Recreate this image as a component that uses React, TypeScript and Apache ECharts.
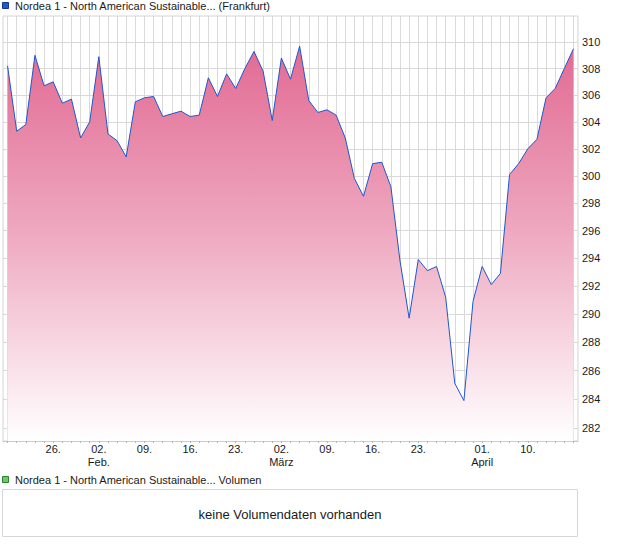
import React, { useEffect, useRef } from "react";
import * as echarts from "echarts";

const dates = [
  "2026-01-19", "2026-01-20", "2026-01-21", "2026-01-22", "2026-01-23",
  "2026-01-26", "2026-01-27", "2026-01-28", "2026-01-29", "2026-01-30",
  "2026-02-02", "2026-02-03", "2026-02-04", "2026-02-05", "2026-02-06",
  "2026-02-09", "2026-02-10", "2026-02-11", "2026-02-12", "2026-02-13",
  "2026-02-16", "2026-02-17", "2026-02-18", "2026-02-19", "2026-02-20",
  "2026-02-23", "2026-02-24", "2026-02-25", "2026-02-26", "2026-02-27",
  "2026-03-02", "2026-03-03", "2026-03-04", "2026-03-05", "2026-03-06",
  "2026-03-09", "2026-03-10", "2026-03-11", "2026-03-12", "2026-03-13",
  "2026-03-16", "2026-03-17", "2026-03-18", "2026-03-19", "2026-03-20",
  "2026-03-23", "2026-03-24", "2026-03-25", "2026-03-26", "2026-03-27",
  "2026-03-30", "2026-03-31", "2026-04-01", "2026-04-02",
  "2026-04-07", "2026-04-08", "2026-04-09", "2026-04-10",
  "2026-04-13", "2026-04-14", "2026-04-15", "2026-04-16", "2026-04-17",
];

const prices = [
  308.2, 303.3, 303.8, 309.0, 306.7,
  307.0, 305.4, 305.7, 302.8, 304.0,
  308.9, 303.1, 302.6, 301.4, 305.5,
  305.8, 305.9, 304.4, 304.6, 304.8,
  304.4, 304.5, 307.3, 305.9, 307.6,
  306.5, 308.0, 309.3, 307.8, 304.1,
  308.8, 307.2, 309.7, 305.6, 304.7,
  304.9, 304.5, 302.8, 299.8, 298.5,
  300.9, 301.0, 299.2, 293.8, 289.7,
  293.9, 293.1, 293.4, 291.2, 285.1,
  283.9, 290.9, 293.4, 292.1,
  292.9, 300.1, 300.9, 302.0,
  302.7, 305.8, 306.5, 308.0, 309.5,
];

const xLabelDates = [
  "2026-01-26", "2026-02-02", "2026-02-09", "2026-02-16", "2026-02-23",
  "2026-03-02", "2026-03-09", "2026-03-16", "2026-03-23", "2026-04-01", "2026-04-10",
];

const monthNames: Record<string, string> = { "01": "Jan.", "02": "Feb.", "03": "März", "04": "April" };

const yTicks = [282, 284, 286, 288, 290, 292, 294, 296, 298, 300, 302, 304, 306, 308, 310];
const yMin = 281.1;
const yMax = 312;

const titleText = "Nordea 1 - North American Sustainable... (Frankfurt)";
const volumeTitle = "Nordea 1 - North American Sustainable... Volumen";
const noVolumeText = "keine Volumendaten vorhanden";

const FONT = '"Liberation Sans", Arial, Helvetica, sans-serif';

export default function App() {
  const ref = useRef<HTMLDivElement>(null);

  useEffect(() => {
    document.body.style.margin = "0";
    const chart = echarts.init(ref.current!, null, { renderer: "svg" });

    const dayIdx = dates.map((_, i) => i);
    const labelIdx = xLabelDates.map((d) => dates.indexOf(d));
    const monthStart = new Set(
      labelIdx.filter((i) => i > 0 && dates[i].slice(5, 7) !== dates[i - 1].slice(5, 7))
    );

    const option: any = {
      animation: false,
      grid: { left: 3, top: 16, right: 42, bottom: 105, show: true, borderColor: "#d4d4d4", borderWidth: 1, backgroundColor: "#fff" },
      xAxis: {
        type: "value",
        min: -0.5,
        max: dates.length - 0.5,
        axisLine: { show: true, lineStyle: { color: "#cccccc", width: 1 } },
        axisTick: { show: true, customValues: dayIdx, length: 2, lineStyle: { color: "#b5b5b5" } },
        splitLine: { show: true, lineStyle: { color: "#d9d9d9", width: 1 } },
        axisLabel: {
          customValues: labelIdx,
          margin: 2,
          fontSize: 11,
          lineHeight: 12.5,
          fontFamily: FONT,
          color: "#1a1a1a",
          formatter: (v: number) => {
            const i = Math.round(v);
            const d = dates[i];
            if (!d) return "";
            const day = d.slice(8, 10) + ".";
            return monthStart.has(i) ? day + "\n" + monthNames[d.slice(5, 7)] : day;
          },
        },
      },
      yAxis: {
        type: "log",
        logBase: 10,
        position: "right",
        min: yMin,
        max: yMax,
        axisLine: { show: false },
        axisTick: { show: false, customValues: yTicks },
        splitLine: { show: true, lineStyle: { color: "#d9d9d9", width: 1 } },
        axisLabel: {
          customValues: yTicks,
          margin: 4,
          fontSize: 11,
          fontFamily: FONT,
          color: "#1a1a1a",
          formatter: (v: number) => String(Math.round(v)),
        },
      },
      series: [
        {
          type: "line",
          data: prices.map((p, i) => [i, p]),
          showSymbol: false,
          symbol: "none",
          lineStyle: { color: "#1f56cc", width: 1 },
          areaStyle: {
            origin: yMin,
            opacity: 1,
            color: new echarts.graphic.LinearGradient(0, 16, 0, 441, [
              { offset: 0, color: "#e0608c" },
              { offset: 0.5, color: "#eea7bf" },
              { offset: 1, color: "#ffffff" },
            ], true),
          },
          clip: true,
        },
      ],
      graphic: [
        { type: "rect", shape: { x: 2.5, y: 2.5, width: 6, height: 6 }, style: { fill: "#2358cc", stroke: "#123a8a", lineWidth: 1 } },
        { type: "text", x: 15, y: 6, style: { text: titleText, fontSize: 11, fontFamily: FONT, fill: "#1a1a1a", verticalAlign: "middle" } },
        { type: "rect", shape: { x: 2.5, y: 476.5, width: 6, height: 6 }, style: { fill: "#66cc66", stroke: "#2e7d32", lineWidth: 1 } },
        { type: "text", x: 15, y: 480, style: { text: volumeTitle, fontSize: 11, fontFamily: FONT, fill: "#1a1a1a", verticalAlign: "middle" } },
        { type: "rect", shape: { x: 2.5, y: 489.5, width: 575, height: 47 }, style: { fill: "#ffffff", stroke: "#d6d6d6", lineWidth: 1 } },
        { type: "text", x: 290, y: 514, style: { text: noVolumeText, fontSize: 13, fontFamily: FONT, fill: "#1a1a1a", align: "center", verticalAlign: "middle" } },
      ],
    };

    chart.setOption(option);
    return () => chart.dispose();
  }, []);

  return <div ref={ref} style={{ width: 620, height: 546 }} />;
}
